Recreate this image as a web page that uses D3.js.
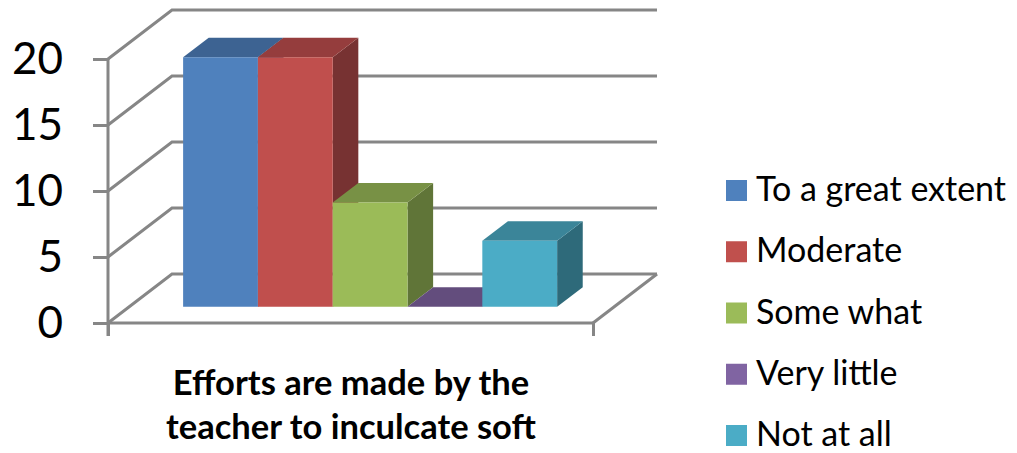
<!DOCTYPE html>
<html>
<head>
<meta charset="utf-8">
<script src="https://cdnjs.cloudflare.com/ajax/libs/d3/7.8.5/d3.min.js"></script>
<style>
    html, body { margin: 0; padding: 0; background: #fff; }
    svg { display: block; font-family: Lato, "Open Sans", sans-serif; }
    svg text { font-family: Lato, "Open Sans", sans-serif; }
</style>
</head>
<body>
<svg id="chart" width="1017" height="453"></svg>
<script>
// data
const categories = ['To a great extent', 'Moderate', 'Some what', 'Very little', 'Not at all'];
const values = [18.9, 18.9, 7.9, 0, 5];
const colors = ['#4F81BD', '#C0504D', '#9BBB59', '#8064A2', '#4BACC6'];
const yTicks = [0, 5, 10, 15, 20];
const titleLines = ['Efforts are made by the', 'teacher to inculcate soft'];

// front plane of the 3d box + depth vector of the whole box
const plot = { left: 108, right: 593, bottom: 323, top: 59 };
const depth = { dx: 64, dy: -49 };
// bars stand between these two fractions of the depth
const barDepth = { front: 0.33, back: 0.73 };

const svg = d3.select('#chart');
const defs = svg.append('defs');
defs.append('filter').attr('id', 'soft')
    .attr('x', '-5%').attr('y', '-5%').attr('width', '110%').attr('height', '110%')
    .append('feGaussianBlur').attr('stdDeviation', 0.45);

const y = d3.scaleLinear().domain([0, 20]).range([plot.bottom, plot.top]);
const x = d3.scaleBand().domain(categories).range([162, 536]).padding(0);

// project a point (front plane x, front plane y, depth 0..1)
const pt = (px, py, d) => [px + depth.dx * d, py + depth.dy * d];
const poly = pts => pts.map(p => p.join(',')).join(' ');

const chart = svg.append('g').attr('filter', 'url(#soft)');

// walls: back gridlines and left side diagonals
const grid = chart.append('g').attr('stroke', '#868686').attr('stroke-width', 3).attr('fill', 'none');
yTicks.forEach(t => {
    const a = pt(plot.left, y(t), 0);
    const b = pt(plot.left, y(t), 1);
    const c = pt(plot.right, y(t), 1);
    grid.append('polyline').attr('points', poly([a, b, c]));
});
// floor right edge
grid.append('line')
    .attr('x1', plot.right).attr('y1', y(0))
    .attr('x2', plot.right + depth.dx).attr('y2', y(0) + depth.dy);

// bars, left to right so each one covers the side of the previous
const bars = chart.selectAll('.bar')
    .data(categories.map((c, i) => ({ c, v: values[i], color: colors[i] })))
    .enter().append('g').attr('class', 'bar');

function face(d, fn) {
    const x0 = x(d.c), x1 = x0 + x.bandwidth();
    return poly(fn(x0, x1, y(0), y(d.v)));
}
const f = barDepth.front, b = barDepth.back;

// right side
bars.append('polygon')
    .attr('fill', d => d3.rgb(d.color).darker(1.35))
    .attr('points', d => face(d, (x0, x1, y0, yv) => [pt(x1, y0, f), pt(x1, y0, b), pt(x1, yv, b), pt(x1, yv, f)]));
// top
bars.append('polygon')
    .attr('fill', d => d3.rgb(d.color).darker(0.72))
    .attr('points', d => face(d, (x0, x1, y0, yv) => [pt(x0, yv, f), pt(x1, yv, f), pt(x1, yv, b), pt(x0, yv, b)]));
// front
bars.append('polygon')
    .attr('fill', d => d.color)
    .attr('points', d => face(d, (x0, x1, y0, yv) => [pt(x0, y0, f), pt(x1, y0, f), pt(x1, yv, f), pt(x0, yv, f)]));

// value axis
const yAxis = d3.axisLeft(y).tickValues(yTicks).tickSize(15).tickPadding(30).tickFormat(d3.format('d'));
const yG = svg.append('g').attr('transform', `translate(${plot.left},0)`).call(yAxis);
yG.attr('font-family', null);
yG.select('.domain').remove();
yG.selectAll('.tick line').attr('stroke', '#868686').attr('stroke-width', 3);
yG.selectAll('.tick text').attr('font-size', 44).attr('fill', '#000');
svg.append('line')
    .attr('x1', plot.left).attr('x2', plot.left)
    .attr('y1', y(20)).attr('y2', y(0) + 13)
    .attr('stroke', '#868686').attr('stroke-width', 3);

// category axis
const xAxis = d3.axisBottom(d3.scaleLinear().domain([0, 1]).range([plot.left, plot.right]))
    .tickValues([0, 1]).tickSize(13).tickFormat('');
const xG = svg.append('g').attr('transform', `translate(0,${y(0)})`).call(xAxis);
xG.select('.domain').attr('stroke', '#868686').attr('stroke-width', 3).attr('d', `M${plot.left},0H${plot.right}`);
xG.selectAll('.tick line').attr('stroke', '#868686').attr('stroke-width', 3);

// axis title
svg.append('g').selectAll('text')
    .data(titleLines)
    .enter().append('text')
    .attr('x', 351)
    .attr('y', (d, i) => 395 + i * 44)
    .attr('text-anchor', 'middle')
    .attr('font-size', 34.5)
    .attr('font-weight', 700)
    .attr('fill', '#000')
    .text(d => d);

// legend
const legendY = d3.scalePoint().domain(categories).range([180, 425]);
const legend = svg.append('g').selectAll('g')
    .data(categories)
    .enter().append('g')
    .attr('transform', d => `translate(726,${legendY(d)})`);
legend.append('rect')
    .attr('width', 21).attr('height', 21)
    .attr('fill', (d, i) => colors[i]);
legend.append('text')
    .attr('x', 30).attr('y', 21)
    .attr('font-size', 34)
    .attr('fill', '#000')
    .text(d => d);
</script>
</body>
</html>
